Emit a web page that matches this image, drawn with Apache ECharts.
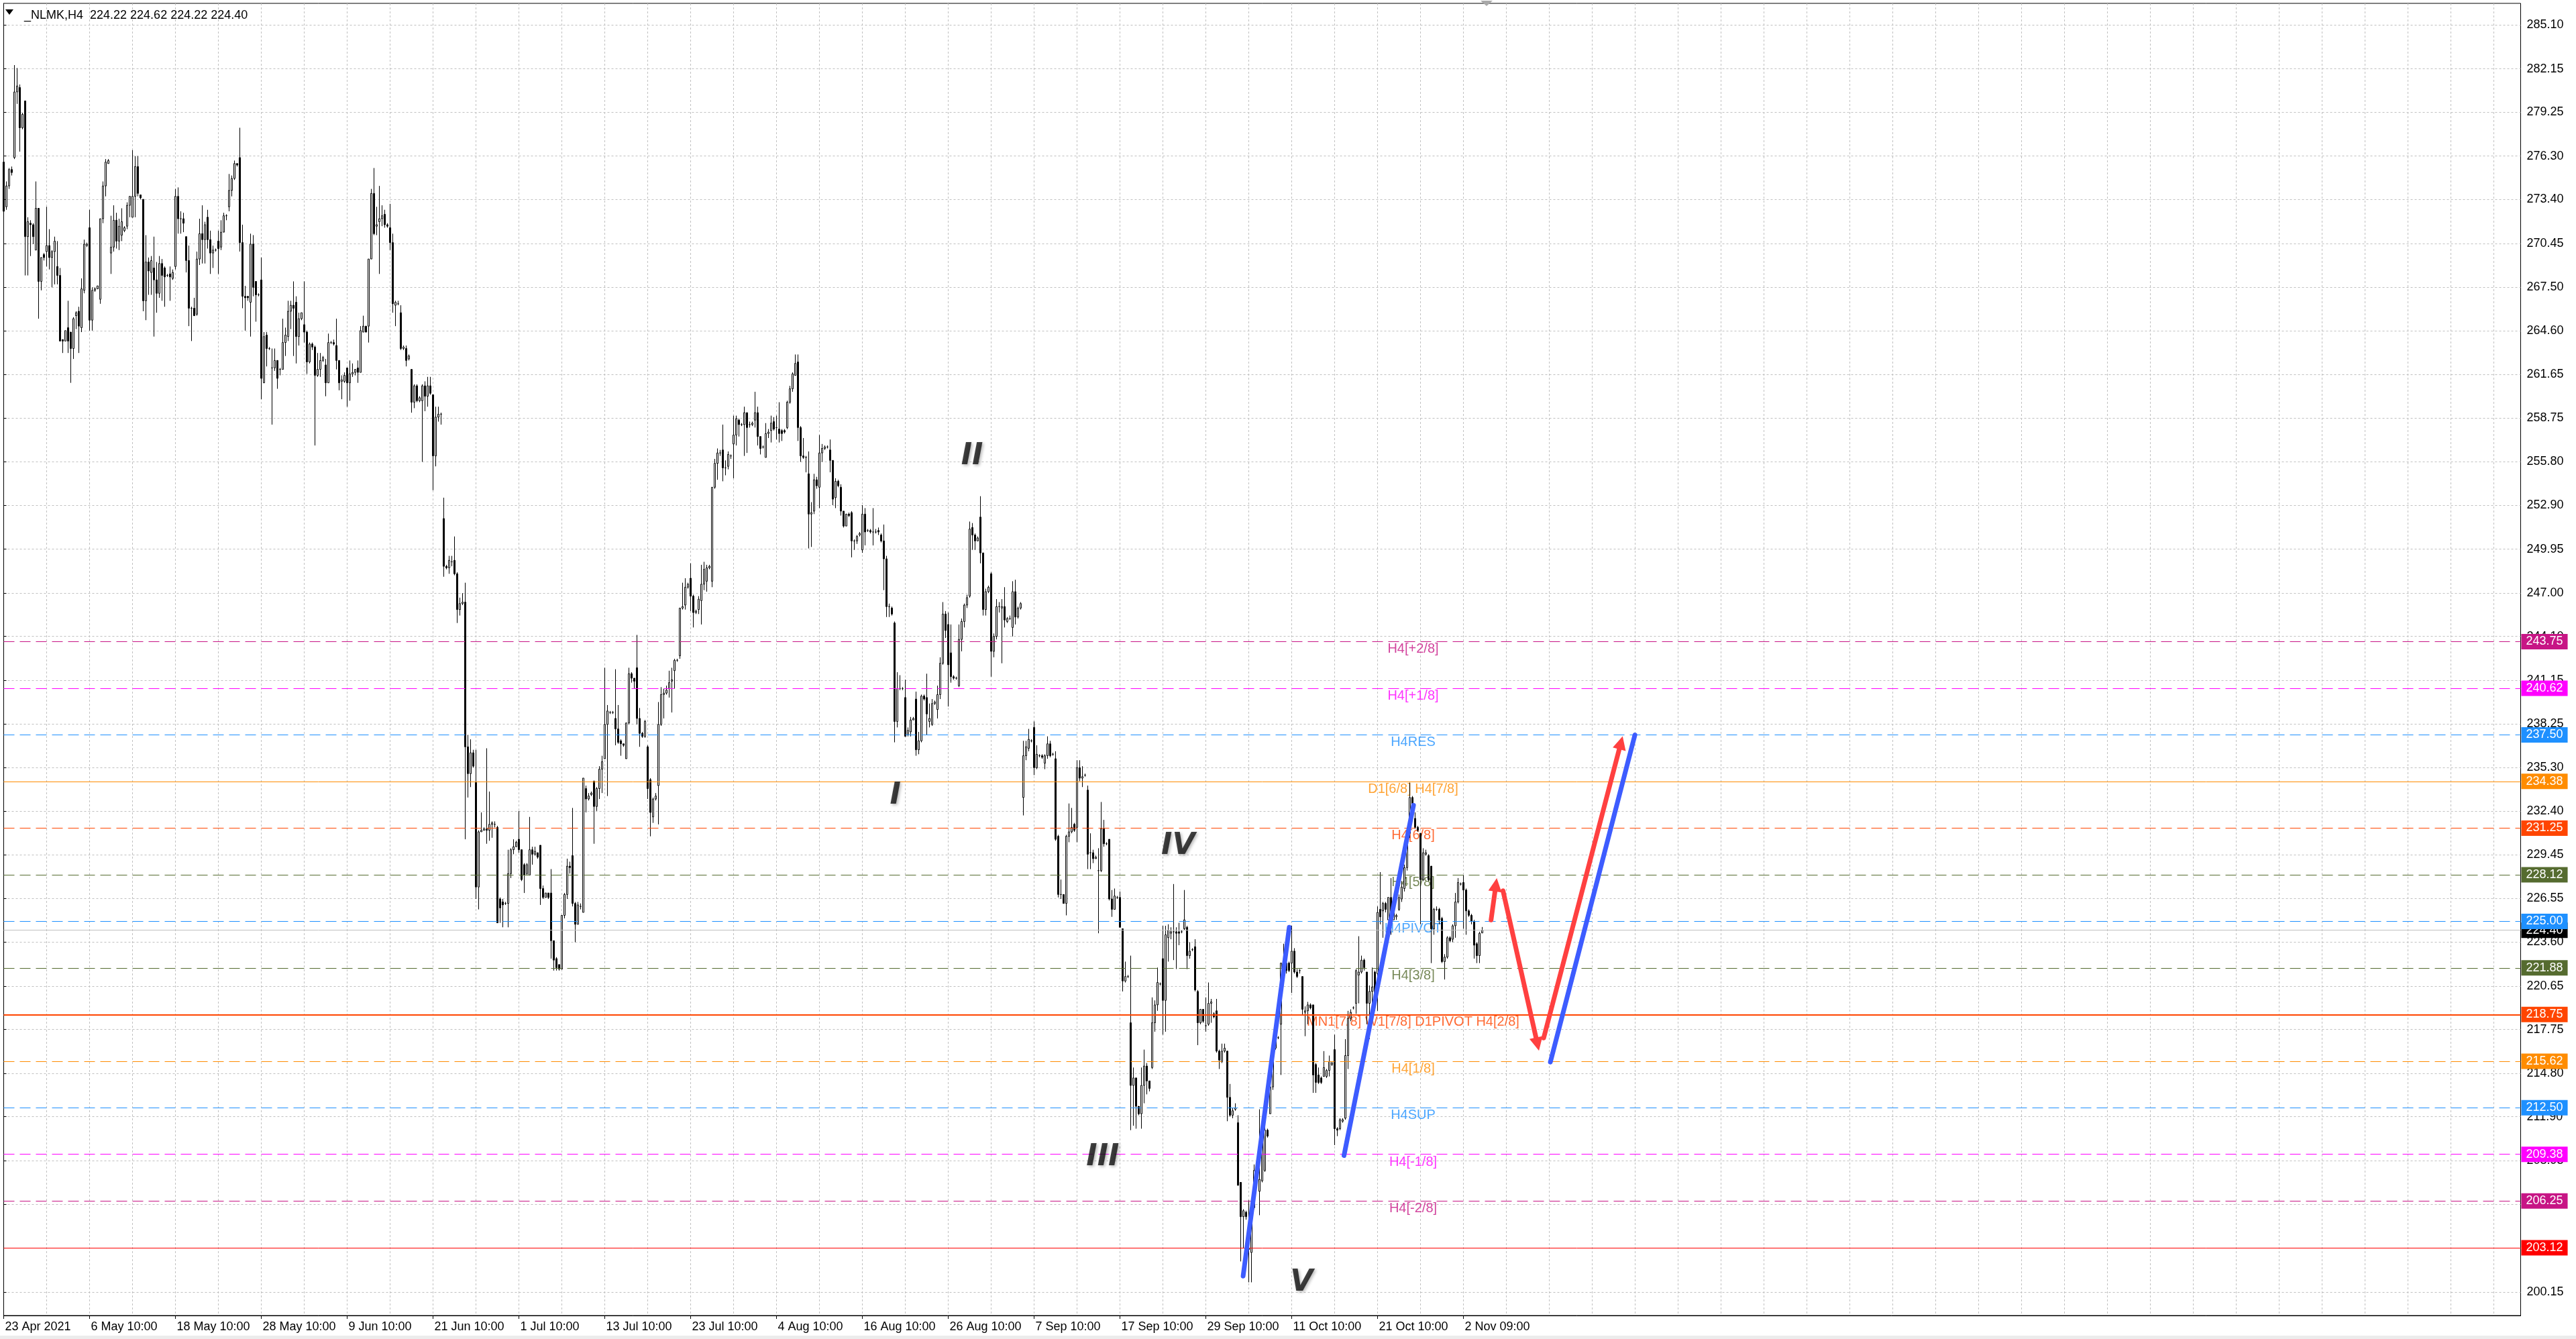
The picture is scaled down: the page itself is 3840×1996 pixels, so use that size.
<!DOCTYPE html>
<html>
<head>
<meta charset="utf-8">
<title>_NLMK,H4</title>
<style>
html, body { margin: 0; padding: 0; background: #fff; }
#main { width: 3840px; height: 1996px; }
</style>
</head>
<body>
<div id="main"></div>
<script src="https://cdn.jsdelivr.net/npm/echarts/dist/echarts.min.js"></script>
<script>
// H4 bars: [open, close, low, high]
var ohlc = [
[275.9,272.6,272.2,276.2],[272.9,274.3,272.7,274.6],[274.3,275.4,274.1,275.5],[275.4,275.2,275.0,275.6],[276.2,280.6,276.1,282.4],[280.6,281.0,279.8,282.2],
[280.9,278.2,276.6,281.1],[278.2,279.1,278.1,279.2],[280.0,270.9,268.3,280.0],[270.9,271.9,268.3,272.2],[271.8,271.7,269.6,272.0],[271.7,270.9,270.4,271.8],
[270.0,272.8,270.0,274.6],[272.8,267.9,265.4,272.8],[267.9,269.5,267.3,269.5],[269.7,269.5,269.3,269.8],[269.9,270.3,268.9,272.9],[270.3,269.5,268.7,271.4],
[269.5,269.9,267.5,270.0],[269.9,270.6,267.7,270.9],[268.9,268.3,267.7,270.6],[268.3,263.9,263.9,268.8],[264.0,263.9,263.1,264.0],[263.9,264.6,263.9,264.6],
[264.8,263.9,263.1,266.6],[264.5,263.4,261.1,264.5],[263.4,265.4,262.7,265.5],[265.6,265.8,264.7,265.9],[265.9,264.9,263.1,266.2],[264.8,267.4,264.5,268.1],
[267.3,270.4,267.1,270.7],[270.3,270.4,270.2,270.5],[271.5,265.3,264.6,272.7],[265.3,267.3,264.6,267.5],[267.3,267.4,267.2,267.5],[267.4,267.6,267.4,267.6],
[266.7,272.1,266.4,272.1],[272.1,274.3,271.8,274.6],[274.3,275.9,273.6,276.1],[275.8,276.0,275.8,276.1],[269.8,270.2,268.4,272.3],[270.2,272.0,269.9,273.0],
[272.0,270.6,270.1,272.5],[270.6,271.6,270.0,272.1],[271.0,271.9,270.6,272.8],[271.3,271.5,271.2,271.6],[271.6,273.0,271.4,273.2],[273.0,273.6,272.2,273.6],
[272.2,273.6,272.2,276.7],[273.6,275.6,272.2,276.3],[275.6,273.8,273.6,276.3],[273.7,273.5,273.4,273.7],[273.4,266.6,265.9,273.4],[266.6,269.2,265.3,271.0],
[269.2,268.6,267.0,269.5],[268.5,269.3,267.0,269.6],[268.8,268.0,264.2,270.9],[268.0,267.1,265.8,269.2],[267.1,269.1,266.8,269.6],[269.1,268.3,266.6,269.4],
[268.8,268.2,266.2,268.9],[268.3,268.3,268.2,268.4],[268.4,268.2,266.6,268.9],[268.1,268.5,268.0,268.7],[268.9,273.6,268.7,274.1],[273.6,272.1,271.1,274.2],
[272.1,272.1,271.1,272.6],[272.1,271.8,271.2,272.5],[270.9,269.3,268.5,270.9],[269.3,266.1,264.9,270.3],[266.1,266.1,263.9,266.2],[266.1,265.6,265.6,266.8],
[265.7,269.4,265.6,269.9],[269.4,271.1,269.0,272.1],[271.1,270.7,269.1,273.0],[270.7,271.7,269.1,271.9],[272.2,270.7,270.1,272.7],[270.7,269.8,268.4,271.3],
[269.8,270.0,268.8,270.3],[270.0,270.0,269.9,270.1],[270.6,270.1,268.4,271.3],[270.2,271.2,270.0,272.0],[271.2,272.3,271.2,272.5],[272.3,272.3,272.0,272.4],
[272.9,274.0,272.6,275.1],[274.0,274.8,273.6,275.0],[274.8,275.8,274.7,276.0],[275.8,275.7,275.6,275.8],[276.2,270.5,269.9,278.2],[270.5,266.9,266.1,271.7],
[266.9,266.8,264.6,267.6],[266.9,266.8,266.6,266.9],[266.5,270.4,264.2,271.1],[270.4,267.5,266.9,271.0],[267.9,267.0,265.2,267.9],[267.0,267.0,266.9,267.1],
[268.0,261.4,260.0,269.5],[261.1,264.2,261.1,264.5],[264.3,263.4,262.2,264.5],[263.4,263.4,263.3,263.5],[262.1,262.1,258.3,263.4],[262.1,262.6,261.9,263.4],
[262.6,261.4,260.7,262.6],[262.0,262.0,261.6,262.1],[262.0,263.8,262.0,265.4],[263.8,264.3,262.9,264.8],[264.2,265.9,263.9,266.6],[265.9,266.3,264.7,266.6],
[266.3,266.1,262.9,267.9],[266.5,264.2,262.4,266.9],[264.2,265.4,263.6,265.8],[265.4,265.8,265.3,265.8],[265.0,264.5,263.8,267.9],[264.5,262.5,261.7,264.6],
[262.5,263.7,262.4,263.8],[263.7,263.5,263.3,263.8],[263.5,261.6,256.9,263.6],[261.6,262.0,261.5,263.1],[262.0,262.6,261.5,263.1],[262.6,262.8,262.5,262.9],
[262.3,261.1,260.2,262.7],[261.1,263.8,261.1,264.4],[263.8,263.8,263.7,263.9],[263.8,263.7,263.6,264.0],[263.6,262.6,262.0,265.4],[262.6,261.1,260.6,262.6],
[261.2,261.3,260.0,261.6],[261.2,261.6,261.1,261.8],[262.1,261.1,259.5,262.1],[261.1,261.7,259.9,262.6],[261.7,261.8,261.5,262.4],[261.8,262.0,261.6,262.0],
[262.1,261.8,261.1,262.6],[261.8,264.6,261.8,264.9],[264.5,264.9,264.5,265.6],[264.9,264.5,264.5,264.9],[264.9,269.4,263.8,269.4],[269.4,273.8,269.4,274.1],
[273.8,271.1,271.0,275.5],[271.6,271.7,271.0,272.9],[271.9,272.1,268.4,274.3],[272.1,272.3,271.6,273.0],[272.4,271.7,271.5,272.7],[271.7,271.6,271.5,271.8],
[271.5,270.5,270.0,273.1],[270.5,266.4,265.8,271.1],[266.3,266.5,264.9,266.6],[266.4,266.4,266.3,266.6],[265.8,263.4,263.3,266.3],[263.4,263.5,263.3,263.6],
[263.4,262.6,262.2,263.6],[262.7,262.9,262.6,263.0],[262.0,259.8,259.1,262.0],[259.8,260.9,259.4,261.0],[260.9,259.9,259.8,261.0],[259.9,260.1,259.8,260.2],
[259.9,260.9,255.8,261.0],[260.9,260.2,259.2,261.2],[260.2,260.9,259.5,261.5],[260.9,260.4,260.3,261.5],[260.3,256.2,253.9,260.3],[256.2,258.8,255.5,259.5],
[258.8,259.0,258.5,259.5],[259.0,259.0,258.3,259.1],[252.0,248.8,248.1,253.4],[248.8,248.7,248.6,248.9],[248.7,249.2,248.3,249.5],[249.1,249.1,248.8,249.5],
[249.2,248.3,248.2,250.8],[248.3,245.9,245.0,248.4],[245.9,246.3,245.5,246.7],[246.3,246.4,246.2,247.0],[246.4,236.7,230.5,247.7],[236.7,234.9,233.3,237.5],
[234.9,236.3,234.0,237.2],[236.3,235.4,235.3,236.5],[234.3,227.3,226.5,236.5],[227.3,231.0,225.8,231.1],[231.0,231.1,231.0,232.3],[231.1,231.2,231.1,231.3],
[231.2,231.1,230.2,236.6],[231.1,231.5,230.4,233.7],[231.5,231.6,230.6,231.7],[231.5,231.5,231.3,231.7],[231.3,224.9,224.9,231.4],[226.5,225.9,224.9,226.6],
[226.3,226.1,224.6,226.5],[226.2,226.2,226.1,226.3],[226.2,228.2,224.6,229.8],[228.2,229.8,227.9,229.9],[229.8,230.0,229.5,230.5],[230.0,230.3,230.0,230.4],
[230.5,229.8,229.6,232.4],[229.8,227.8,227.7,229.8],[228.8,228.1,226.9,228.9],[228.2,228.8,228.1,228.9],[228.1,229.8,228.1,232.0],[229.8,229.5,228.8,230.0],
[229.5,229.7,229.4,230.0],[229.6,229.3,229.2,229.6],[230.1,227.2,226.1,230.1],[227.2,226.6,226.5,227.4],[226.6,226.9,226.6,226.9],[226.9,226.6,226.5,226.9],
[226.9,223.7,222.5,228.5],[223.7,222.4,221.7,223.7],[222.5,221.9,221.7,222.6],[222.1,221.8,221.7,222.1],[221.8,225.4,221.8,225.4],[225.4,226.8,225.2,226.9],
[226.8,228.7,226.5,229.2],[228.7,228.6,228.2,229.0],[229.4,226.2,226.0,232.6],[226.2,224.8,223.6,226.3],[224.8,226.1,224.8,226.3],[226.0,226.0,225.8,226.2],
[225.6,234.6,225.6,234.6],[233.9,233.2,232.3,234.1],[233.2,233.4,233.1,233.6],[233.5,233.6,233.4,233.7],[234.4,232.7,230.2,234.4],[232.7,233.9,232.4,234.0],
[233.9,235.2,233.2,235.4],[235.2,235.7,233.6,236.1],[235.9,238.2,235.9,242.0],[238.2,239.1,233.4,239.5],[239.0,239.0,238.9,239.1],[239.0,239.0,238.9,239.1],
[238.6,237.9,236.8,241.9],[237.9,237.0,236.9,239.5],[237.1,236.9,236.1,237.2],[236.9,236.8,236.7,236.9],[235.9,238.3,235.9,238.3],[238.3,241.6,238.2,242.0],
[241.6,241.3,241.0,241.7],[241.3,241.1,240.6,241.3],[242.0,238.6,238.2,244.2],[238.6,237.6,236.7,239.3],[237.6,237.4,237.3,237.7],[237.4,238.4,237.3,238.5],
[236.7,233.9,233.2,236.8],[234.5,232.3,230.7,234.6],[232.0,233.2,231.6,233.3],[233.2,233.4,233.1,233.6],[234.1,238.2,231.5,239.7],[238.2,240.2,238.1,240.7],
[240.2,240.3,238.6,240.6],[240.3,240.5,240.2,240.8],[240.6,241.0,240.0,241.8],[241.1,241.2,239.0,242.0],[241.8,242.5,240.6,242.6],[242.5,242.5,242.4,242.6],
[242.8,246.0,242.6,246.0],[246.0,246.1,245.9,247.7],[246.2,247.4,245.9,248.0],[247.4,247.6,247.3,247.7],[248.0,246.8,245.8,249.0],[246.8,245.7,244.7,246.9],
[245.7,245.8,245.6,245.9],[245.9,246.6,245.6,246.8],[246.5,247.6,244.9,248.9],[247.6,248.6,247.2,249.1],[247.8,248.7,247.1,248.9],[248.7,248.8,248.6,248.9],
[247.8,254.1,247.4,254.1],[254.1,255.7,254.0,256.0],[255.7,256.4,254.6,256.7],[256.4,256.4,256.2,256.6],[256.6,255.4,254.5,258.3],[255.4,255.4,254.9,255.9],
[255.5,256.3,255.3,256.5],[256.2,256.2,256.0,256.3],[257.0,257.6,254.7,258.9],[257.6,258.7,256.9,258.9],[258.6,258.3,257.5,258.7],[258.3,258.3,258.2,258.4],
[258.3,259.1,256.2,259.5],[259.1,258.1,256.4,259.1],[258.3,258.3,258.1,258.5],[258.3,258.4,258.2,258.5],[258.6,259.1,258.1,260.5],[259.1,257.5,256.9,259.5],
[257.5,256.7,256.3,257.5],[256.8,256.8,256.7,256.9],[256.1,257.7,256.1,258.4],[257.7,257.8,257.4,258.0],[257.9,258.4,257.1,258.9],[258.5,258.0,257.9,258.8],
[258.1,258.1,257.3,258.9],[258.0,257.7,257.1,259.8],[257.9,257.7,257.2,258.0],[257.9,257.8,257.7,258.0],[258.1,259.8,258.0,259.9],[259.8,260.7,259.7,260.9],
[260.7,261.7,260.5,261.8],[261.6,262.4,261.6,263.0],[262.5,258.1,257.2,263.0],[258.1,256.2,255.8,258.2],[256.2,256.1,256.0,257.4],[256.1,256.1,255.1,256.2],
[255.0,252.3,250.0,256.5],[252.3,252.4,250.1,253.1],[252.5,254.6,252.3,255.0],[254.6,254.2,254.0,254.8],[254.1,256.4,252.7,257.6],[256.4,256.7,255.8,257.0],
[256.7,256.8,256.6,256.9],[256.8,256.8,256.7,256.9],[256.6,255.9,255.1,257.3],[255.9,253.3,252.9,255.9],[253.4,254.5,252.7,254.7],[254.5,254.2,254.1,254.6],
[254.1,252.5,252.2,254.3],[252.5,251.5,251.4,252.5],[251.5,252.3,251.5,252.3],[252.3,252.2,252.1,252.4],[252.4,250.5,249.4,252.5],[250.5,250.5,249.9,250.6],
[250.5,250.8,250.3,250.9],[250.9,251.0,250.8,251.1],[249.9,252.3,249.7,252.9],[252.3,251.1,250.2,252.7],[251.2,251.2,251.1,251.3],[251.2,251.1,251.0,251.3],
[251.1,251.1,250.2,252.7],[251.1,251.1,251.0,251.3],[251.2,251.1,250.9,251.4],[250.9,250.5,250.4,251.0],[250.5,249.3,247.2,251.6],[249.3,246.1,245.4,249.5],
[246.1,246.1,245.4,246.3],[246.0,245.6,245.5,246.1],[245.0,238.4,237.0,245.1],[238.4,240.6,238.0,241.7],[240.6,240.6,240.5,241.5],[240.6,240.6,240.5,240.7],
[240.0,237.4,237.4,241.2],[237.5,237.8,237.4,238.0],[237.7,238.5,237.4,238.7],[238.5,238.6,238.5,238.7],[239.9,236.5,236.1,240.4],[236.5,237.1,236.2,237.7],
[237.1,240.1,237.0,240.2],[240.1,239.9,239.8,240.2],[240.0,238.9,237.5,241.6],[238.4,238.6,238.0,239.6],[238.2,239.6,238.1,239.9],[239.6,239.7,239.5,239.8],
[239.2,240.2,238.6,240.8],[240.2,242.3,239.9,242.7],[242.3,245.6,242.2,246.4],[245.6,244.5,244.0,245.8],[244.9,242.2,239.4,245.7],[243.0,241.4,241.0,244.9],
[241.4,241.3,241.2,241.5],[241.3,241.3,241.2,241.4],[240.8,243.9,240.7,244.9],[243.9,245.1,243.1,245.3],[245.1,246.2,244.7,246.3],[246.2,246.7,246.0,246.9],
[246.8,251.3,246.7,251.8],[251.4,250.9,249.9,251.7],[250.9,250.5,249.9,251.0],[250.5,250.7,250.5,250.8],[252.1,249.7,249.0,253.5],[249.7,245.9,245.5,249.7],
[245.9,247.1,245.5,247.3],[247.1,247.4,247.0,247.5],[248.3,243.1,241.4,248.4],[243.1,244.1,242.7,244.3],[244.1,246.1,243.9,246.6],[246.1,246.1,245.7,246.4],
[246.0,246.1,242.3,246.6],[246.1,245.2,244.7,247.4],[245.1,245.3,245.0,245.4],[245.3,245.3,245.2,245.5],[244.7,247.1,244.1,247.8],[247.1,245.4,244.9,247.9],
[245.4,246.0,245.3,246.1],[246.0,246.3,245.9,246.4],[233.3,236.1,232.1,237.1],[236.1,236.7,235.8,237.1],[236.6,237.2,236.4,237.9],[237.1,237.1,237.0,237.2],
[238.0,235.3,234.8,238.4],[235.3,236.2,235.2,236.8],[236.1,236.1,236.0,236.2],[236.1,236.0,235.9,236.2],[235.6,236.1,235.2,236.2],[236.1,236.9,235.9,237.4],
[236.9,236.1,236.0,237.1],[236.2,236.2,236.1,236.3],[235.9,230.5,230.4,236.4],[230.7,226.8,226.6,230.8],[226.8,226.8,226.5,227.8],[226.8,226.2,226.2,226.8],
[226.2,230.7,225.4,230.8],[230.7,231.0,230.3,232.9],[231.0,231.3,230.9,232.6],[231.5,231.1,231.0,231.6],[231.3,235.3,230.3,235.8],[235.3,234.6,234.4,235.8],
[234.6,234.7,234.0,235.4],[234.8,234.8,234.7,234.9],[233.8,229.5,228.5,234.1],[229.6,229.6,228.5,230.9],[229.6,229.2,228.9,229.8],[229.2,229.3,229.2,229.4],
[228.4,228.4,224.2,229.9],[228.4,231.2,228.3,233.0],[231.2,230.2,230.0,231.8],[230.2,230.2,230.1,230.3],[230.5,226.5,226.4,230.5],[226.5,225.8,225.3,227.1],
[225.8,226.7,225.8,227.2],[226.6,226.6,226.5,226.7],[226.6,224.6,224.6,227.0],[224.5,221.0,220.3,224.5],[221.0,221.3,220.9,222.3],[221.3,221.3,221.2,221.4],
[218.2,214.0,211.0,222.7],[214.0,214.5,211.3,215.2],[214.5,212.6,211.1,214.5],[212.6,212.1,212.0,212.6],[212.1,214.0,211.1,215.2],[214.0,215.3,212.8,216.4],
[215.3,214.3,213.4,215.5],[214.3,213.8,213.6,214.3],[215.2,218.2,215.1,219.9],[218.2,219.4,217.6,219.7],[219.4,220.9,219.0,221.9],[220.8,220.8,220.7,220.9],
[222.5,219.7,217.4,224.7],[219.7,224.1,217.6,224.7],[223.9,224.4,222.3,224.8],[224.2,224.3,223.8,224.6],[224.3,224.3,222.4,227.5],[224.3,224.2,221.8,224.6],
[224.3,224.2,223.4,224.9],[224.3,224.3,224.2,224.4],[224.5,225.1,224.4,227.1],[224.6,222.7,221.8,224.7],[222.7,223.0,222.5,223.6],[223.1,223.1,223.0,223.2],
[223.3,220.4,220.3,223.8],[220.3,218.2,216.7,220.4],[218.2,219.1,218.1,219.1],[219.1,218.3,218.2,219.1],[218.0,218.0,217.6,219.9],[218.1,219.5,218.0,220.9],
[219.5,219.6,218.2,219.8],[218.8,218.6,218.5,218.9],[219.0,216.3,216.2,219.8],[216.3,215.7,215.1,216.4],[215.6,216.3,215.5,216.8],[216.3,216.5,216.2,216.8],
[216.3,213.2,211.6,216.3],[213.2,212.0,211.9,214.1],[212.0,212.3,211.8,212.5],[212.4,212.5,212.3,212.8],[211.5,207.3,207.3,212.0],[207.5,205.2,202.2,207.5],
[205.2,205.6,203.1,205.7],[205.5,205.2,205.0,205.6],[203.1,203.0,200.8,206.3],[202.8,205.9,200.8,206.0],[205.8,208.3,205.7,208.7],[208.3,208.5,208.2,208.7],
[206.9,207.7,205.3,212.4],[207.6,210.9,207.5,211.0],[208.3,211.0,208.2,211.4],[211.0,210.6,210.5,211.1],[212.1,213.9,212.1,214.4],[213.9,216.5,213.7,216.9],
[216.5,217.1,216.4,217.4],[217.2,217.2,217.1,217.3],[218.1,222.2,214.7,222.2],[222.2,222.4,221.8,223.5],[222.2,221.7,221.5,222.8],[222.2,221.7,221.6,222.3],
[222.2,223.0,220.2,224.7],[223.0,221.6,221.5,223.2],[221.6,221.3,221.2,221.8],[221.7,221.7,221.5,221.8],[221.3,219.1,218.7,221.3],[218.9,219.0,217.3,219.3],
[219.0,219.4,218.1,219.6],[219.4,219.2,219.1,219.5],[219.4,214.7,213.5,219.4],[215.4,214.2,213.5,215.5],[214.7,214.2,214.1,215.2],[214.5,214.2,214.1,214.6],
[214.6,215.2,214.6,216.3],[214.6,215.0,214.5,215.1],[215.0,215.6,214.6,216.0],[215.4,215.5,215.3,215.6],[216.4,211.1,210.0,217.4],[211.1,211.0,210.6,211.2],
[211.1,211.7,211.0,211.8],[211.6,211.7,211.5,211.8],[211.8,216.0,211.7,217.1],[216.0,218.5,215.1,219.0],[218.5,218.9,218.3,219.1],[219.2,219.2,219.1,219.3],
[219.5,221.7,218.8,221.8],[221.4,221.6,219.5,224.0],[221.6,222.4,221.5,222.7],[222.4,221.9,221.7,222.5],[221.6,219.5,218.1,221.6],[219.5,220.3,217.1,220.7],
[220.3,220.6,219.5,221.9],[221.6,220.0,219.0,221.7],[221.5,225.6,219.0,226.0],[225.8,225.3,224.8,228.3],[225.7,226.2,223.9,226.3],[226.2,225.8,225.6,226.3],
[225.1,226.6,225.1,226.6],[226.6,225.5,224.1,227.9],[225.1,225.8,225.1,225.9],[225.3,225.4,225.1,225.5],[225.8,226.6,225.7,226.8],[226.5,227.3,226.3,227.7],
[227.2,228.6,227.0,228.8],[228.6,230.9,228.4,231.0],[230.9,233.3,230.6,234.3],[233.3,232.8,232.5,233.4],[231.9,231.3,231.2,232.3],[231.3,231.1,231.0,231.4],
[230.9,227.8,224.8,230.9],[227.8,229.6,227.7,229.9],[229.5,229.6,229.4,229.8],[229.4,227.8,227.7,229.5],[228.7,224.5,222.2,228.7],[224.5,225.8,224.1,225.9],
[225.8,225.8,225.7,226.0],[225.8,225.1,224.8,225.9],[225.2,222.3,222.2,225.3],[222.3,222.6,221.1,222.8],[222.6,223.9,222.5,224.0],[223.9,223.7,223.6,224.0],
[223.8,224.7,223.6,224.8],[224.7,226.3,223.9,226.9],[226.3,227.6,226.2,227.9],[227.5,227.5,227.4,227.6],[227.6,227.1,224.5,228.1],[227.1,225.7,224.1,227.2],
[225.7,225.4,225.3,225.8],[225.4,225.0,224.8,225.5],[225.0,223.4,222.5,225.1],[223.5,222.7,222.2,223.6],[222.7,224.2,222.2,224.3],[224.22,224.40,224.22,224.62]
];

// time axis labels, one every 32 bars
var timeLabels = ['23 Apr 2021', '6 May 10:00', '18 May 10:00', '28 May 10:00', '9 Jun 10:00', '21 Jun 10:00',
  '1 Jul 10:00', '13 Jul 10:00', '23 Jul 10:00', '4 Aug 10:00', '16 Aug 10:00', '26 Aug 10:00',
  '7 Sep 10:00', '17 Sep 10:00', '29 Sep 10:00', '11 Oct 10:00', '21 Oct 10:00', '2 Nov 09:00'];
var labelStep = 32;
var gridStep = 16;
var barSlots = 939; // bars + empty space on the right

// price scale ticks (right side)
var priceTicks = [285.10, 282.15, 279.25, 276.30, 273.40, 270.45, 267.50, 264.60, 261.65, 258.75,
  255.80, 252.90, 249.95, 247.00, 244.10, 241.15, 238.25, 235.30, 232.40, 229.45,
  226.55, 223.60, 220.65, 217.75, 214.80, 211.90, 208.95, 206.05, 203.10, 200.15];

// Murrey levels
var levelPrices = [243.75, 240.62, 237.50, 234.38, 231.25, 228.12, 225.00, 221.88, 218.75, 215.62, 212.50, 209.38, 206.25, 203.12];
var levelNames = ['H4[+2/8]', 'H4[+1/8]', 'H4RES', 'D1[6/8] H4[7/8]', 'H4[6/8]', 'H4[5/8]', 'H4PIVOT', 'H4[3/8]',
  'MN1[7/8] W1[7/8] D1PIVOT H4[2/8]', 'H4[1/8]', 'H4SUP', 'H4[-1/8]', 'H4[-2/8]', ''];
var levelColors = ['#C71585', '#FF00FF', '#1E90FF', '#FF8C00', '#FF4500', '#556B2F', '#1E90FF', '#556B2F',
  '#FF4500', '#FF8C00', '#1E90FF', '#FF00FF', '#C71585', '#FF0000'];
var levelSolid = [false, false, false, true, false, false, false, false, true, false, false, false, false, true];
var levelWidth = [1, 1, 1, 1, 1, 1, 1, 1, 2, 1, 1, 1, 1, 1];
var levelLabelBar = 525.25;

var lastPrice = 224.40;
var headerText = '_NLMK,H4  224.22 224.62 224.22 224.40';

// wave marks (bar position, price)
var waveNames = ['I', 'II', 'III', 'IV', 'V'];
var waveBars = [332.3, 360.9, 409.6, 437.7, 483.7];
var wavePrices = [233.41, 256.15, 209.18, 230.01, 200.74];

// drawn lines [[bar, price], [bar, price]]
var blueLines = [
  [[461.9, 201.22], [479.1, 224.60]],
  [[499.5, 209.30], [525.4, 232.78]],
  [[576.4, 215.57], [607.9, 237.49]]
];
var redArrows = [
  [[554.3, 225.09], [556.1, 227.45]],
  [[558.75, 227.05], [571.6, 216.77]],
  [[573.9, 217.18], [602.7, 236.97]]
];

var FONT = 'Liberation Sans';
var chart = echarts.init(document.getElementById('main'));

var cats = [];
for (var i = 0; i < barSlots; i++) cats.push(String(i));

var levelLines = [{
  yAxis: lastPrice,
  lineStyle: { color: '#C0C0C0', type: 'solid', width: 1 },
  label: { backgroundColor: '#000', color: '#fff' }
}];
levelPrices.forEach(function (p, k) {
  levelLines.push({
    yAxis: p,
    lineStyle: { color: levelColors[k], type: levelSolid[k] ? 'solid' : [16, 8], width: levelWidth[k] },
    label: { backgroundColor: levelColors[k], color: '#fff' }
  });
});

var levelText = levelPrices.map(function (p, k) {
  return { value: [levelLabelBar, p], name: levelNames[k], label: { color: levelColors[k] } };
});

var waveData = waveNames.map(function (n, k) {
  return { value: [waveBars[k], wavePrices[k]], name: n };
});

var isLabelIdx = function (idx) { return idx % labelStep === 0 && idx / labelStep < timeLabels.length; };

var option = {
  animation: false,
  backgroundColor: '#fff',
  title: {
    text: headerText, left: 31, top: 9,
    textStyle: { fontFamily: FONT, fontSize: 18, fontWeight: 'normal', color: '#000' }
  },
  graphic: [
    { type: 'polygon', shape: { points: [[8, 14], [20, 14], [14, 22]] }, style: { fill: '#000' } },
    { type: 'polygon', shape: { points: [[2207, 1], [2225, 1], [2216, 9]] }, style: { fill: '#a8a8a8' } },
    { type: 'rect', shape: { x: 0, y: 1991, width: 3840, height: 5 }, style: { fill: '#ececec' } }
  ],
  grid: { left: 5.5, top: 5, width: 3752, height: 1956, show: true, borderColor: '#000', borderWidth: 1, containLabel: false, outerBoundsMode: 'none' },
  xAxis: [{
    type: 'category', data: cats, boundaryGap: false,
    axisLine: { show: true, lineStyle: { color: '#000', width: 1 } },
    axisTick: { show: true, interval: isLabelIdx, length: 5, lineStyle: { color: '#000' } },
    axisLabel: {
      interval: isLabelIdx, align: 'left', margin: 8, padding: [0, 0, 0, 2],
      fontFamily: FONT, fontSize: 18, color: '#000',
      formatter: function (v, idx) { return timeLabels[Math.round(Number(v) / labelStep)] || ''; }
    },
    splitLine: { show: true, interval: function (idx) { return idx % gridStep === 0; }, lineStyle: { color: '#c0c0c0', type: [3, 3], width: 1 } }
  }, {
    type: 'value', min: 0, max: barSlots - 1, show: false
  }],
  yAxis: [{
    type: 'value', position: 'right', min: 198.574, max: 286.539, scale: true,
    axisLine: { show: true, lineStyle: { color: '#000' } },
    axisTick: { show: true, length: 4, customValues: priceTicks, lineStyle: { color: '#000' } },
    axisLabel: {
      customValues: priceTicks, margin: 9, fontFamily: FONT, fontSize: 18, color: '#000',
      formatter: function (v) { return Number(v).toFixed(2); }
    },
    splitLine: { show: true, lineStyle: { color: '#c0c0c0', type: [3, 3], width: 1 } }
  }],
  series: [{
    type: 'candlestick', name: '_NLMK,H4', data: ohlc, xAxisIndex: 0, yAxisIndex: 0,
    barWidth: 2,
    itemStyle: { color: '#fff', color0: '#000', borderColor: '#000', borderColor0: '#000', borderWidth: 1 },
    markLine: {
      silent: true, symbol: ['none', 'none'], animation: false,
      label: {
        show: true, position: 'end', distance: 1, padding: [3, 7, 2, 7],
        fontFamily: FONT, fontSize: 18,
        formatter: function (p) { return Number(p.value).toFixed(2); }
      },
      data: levelLines
    },
    z: 3
  }, {
    type: 'scatter', name: 'levels', xAxisIndex: 1, yAxisIndex: 0, data: levelText,
    symbolSize: 1, itemStyle: { color: 'rgba(0,0,0,0)' }, silent: true,
    label: { show: true, position: 'bottom', distance: 1, fontFamily: FONT, fontSize: 20, formatter: '{b}' },
    z: 2
  }, {
    type: 'lines', name: 'blue', coordinateSystem: 'cartesian2d', xAxisIndex: 1, yAxisIndex: 0,
    data: blueLines.map(function (c) { return { coords: c }; }),
    symbol: ['none', 'none'],
    lineStyle: { color: '#3d5cff', width: 7, opacity: 1, cap: 'round' },
    silent: true, z: 5
  }, {
    type: 'lines', name: 'red', coordinateSystem: 'cartesian2d', xAxisIndex: 1, yAxisIndex: 0,
    data: redArrows.map(function (c) { return { coords: c }; }),
    symbol: ['none', 'triangle'], symbolSize: 20,
    lineStyle: { color: '#ff4040', width: 7, opacity: 1, cap: 'round' },
    itemStyle: { color: '#ff4040' },
    silent: true, z: 5
  }, {
    type: 'scatter', name: 'waves', xAxisIndex: 1, yAxisIndex: 0, data: waveData,
    symbolSize: 1, itemStyle: { color: 'rgba(0,0,0,0)' }, silent: true,
    label: {
      show: true, position: 'inside', formatter: '{b}',
      fontFamily: 'DejaVu Sans', fontStyle: 'italic', fontWeight: 'bold', fontSize: 44, color: '#111',
      textShadowColor: 'rgba(0,0,0,0.35)', textShadowBlur: 4, textShadowOffsetX: 2, textShadowOffsetY: 2
    },
    z: 6
  }]
};
chart.setOption(option);
</script>
</body>
</html>
